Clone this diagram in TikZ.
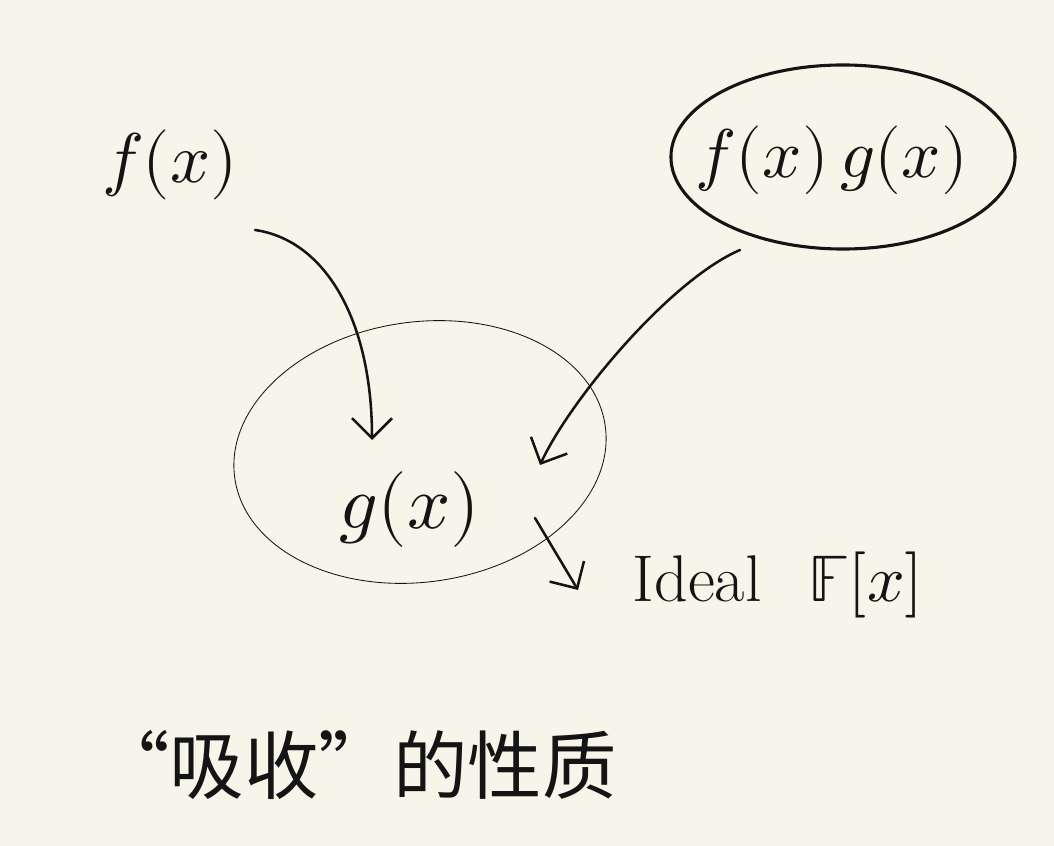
\documentclass[tikz,border=0pt]{standalone}
\usepackage{fontspec}
\usepackage{unicode-math}
\setmathfont{Latin Modern Math}
\newfontfamily\cjk{Noto Sans CJK SC}
\usetikzlibrary{arrows.meta,shapes.geometric}
\definecolor{paper}{HTML}{F7F5E9}
\definecolor{ink}{HTML}{141414}

\begin{document}
\begin{tikzpicture}[x=0.025cm,y=-0.025cm,
   t/.style={inner sep=0pt,text=ink},
   ring/.style={draw=ink,ellipse,inner sep=0pt},
   a/.style={-{Straight Barb[length=5mm,width=10mm]},line width=1.8pt,draw=ink,line cap=round}]
  \fill[paper] (0,0) rectangle (1054,846);
  % the three expressions
  \node[t,font=\fontsize{50}{60}\selectfont] (fx) at (170,165) {$f(x)$};
  \node[ring,line width=2.2pt,minimum width=8.6cm,minimum height=4.6cm] (fgring) at (843,157) {};
  \node[t,font=\fontsize{49}{60}\selectfont] (fg) at (832,160) {$f(x)\,g(x)$};
  \node[ring,line width=0.6pt,minimum width=9.35cm,minimum height=6.5cm,rotate=8] (gring) at (420,452) {};
  \node[t,font=\fontsize{54}{64}\selectfont] (gx) at (410,510) {$g(x)$};
  \node[t,font=\fontsize{47}{56}\selectfont] (ideal) at (778,585) {Ideal\hspace{0.7em}$\mathbb{F}[x]$};
  \node[t,font=\cjk\fontsize{53}{60}\selectfont] (absorb) at (356,765) {“吸收”的性质};
  % arrows
  \draw[a] ([shift={(85,65)}]fx.center) .. controls +(70,10) and +(0,-120) .. ([shift={(-38,-70)}]gx.center);
  \draw[a] ([shift={(-103,93)}]fgring.center) .. controls +(-70,30) and +(30,-65) .. ([shift={(130,-45)}]gx.center);
  \draw[a] ([shift={(125,8)}]gx.center) -- ([shift={(-200,5)}]ideal.center);
\end{tikzpicture}
\end{document}
